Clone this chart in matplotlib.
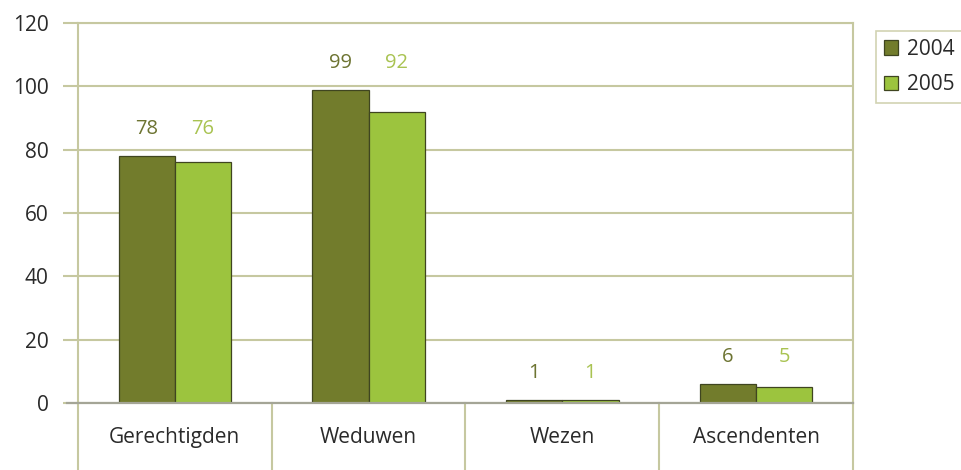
import matplotlib.pyplot as plt
import numpy as np

categories = ["Gerechtigden", "Weduwen", "Wezen", "Ascendenten"]
years = ["2004", "2005"]
values_2004 = [78, 99, 1, 6]
values_2005 = [76, 92, 1, 5]
yticks = [0, 20, 40, 60, 80, 100, 120]

DARK = "#727c2c"
LIGHT = "#9cc43e"
EDGE = "#3f4520"
GRID = "#c6c8a0"
AXIS = "#a4a596"
LABEL_DARK = "#6d7432"
LABEL_LIGHT = "#a9c352"
TEXT = "#2a2a2a"

plt.rcParams["font.family"] = ["Open Sans", "DejaVu Sans"]

fig = plt.figure(figsize=(9.62, 4.70), dpi=100)
ax = fig.add_axes([78 / 962, 1 - 403 / 470, (853 - 78) / 962, (403 - 23) / 470])

x = np.arange(len(categories))
w = 0.29
b1 = ax.bar(x - w / 2, values_2004, w, color=DARK, edgecolor=EDGE, linewidth=0.9,
            label=years[0], zorder=3)
b2 = ax.bar(x + w / 2, values_2005, w, color=LIGHT, edgecolor=EDGE, linewidth=0.9,
            label=years[1], zorder=3)

# value labels sit on one line above the taller bar of each pair
for i, (v1, v2) in enumerate(zip(values_2004, values_2005)):
    ypos = max(v1, v2) + 8.5
    ax.text(b1[i].get_x() + w / 2, ypos, str(v1), ha="center", va="center",
            fontsize=14.5, color=LABEL_DARK)
    ax.text(b2[i].get_x() + w / 2, ypos, str(v2), ha="center", va="center",
            fontsize=14.5, color=LABEL_LIGHT)

ax.set_xlim(-0.5, len(categories) - 0.5)
ax.set_ylim(0, 120)
ax.set_yticks(yticks)
ax.tick_params(axis="y", length=11, width=1.5, color=GRID, labelsize=15, pad=10,
               labelcolor=TEXT)
ax.yaxis.grid(True, color=GRID, linewidth=1.5, zorder=0)
ax.set_xticks([])

for s in ["left", "top", "right"]:
    ax.spines[s].set_color(GRID)
    ax.spines[s].set_linewidth(1.5)
ax.spines["bottom"].set_visible(False)

# baseline extending left over the tick area
ax.plot([-0.5 - 11 / 194, len(categories) - 0.5], [0, 0], color=AXIS, linewidth=1.6,
        clip_on=False, zorder=4)

# category separators below the axis
for i in range(len(categories) + 1):
    ax.plot([i - 0.5, i - 0.5], [0, -30], color=GRID, linewidth=1.5, clip_on=False)

for i, c in enumerate(categories):
    ax.text(i, -11, c, ha="center", va="center", fontsize=15, color=TEXT)

leg = ax.legend(loc="upper left", bbox_to_anchor=(866 / 962, 1 - 21 / 470),
                bbox_transform=fig.transFigure, frameon=True, fontsize=15,
                handlelength=0.7, handleheight=0.7, handletextpad=0.4,
                borderpad=0.35, labelspacing=0.7, fancybox=False)
leg.get_frame().set_edgecolor(GRID)
leg.get_frame().set_linewidth(1.2)
for t in leg.get_texts():
    t.set_color(TEXT)

fig.savefig("out.png", dpi=100)
